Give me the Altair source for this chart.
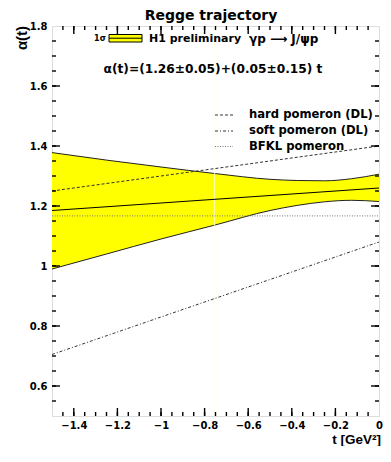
import altair as alt
import pandas as pd

# ---- data ----
band_t = [-1.5, -1.25, -1.0, -0.75, -0.5, -0.375, -0.25, -0.125, 0.0]
band_hi = [1.378, 1.353, 1.330, 1.308, 1.289, 1.285, 1.284, 1.291, 1.306]
band_lo = [0.990, 1.040, 1.090, 1.137, 1.185, 1.202, 1.214, 1.219, 1.215]

line_t = [-1.5, 0.0]
fit_central = [1.185, 1.26]
hard_pomeron = [1.25, 1.40]
soft_pomeron = [0.705, 1.08]
bfkl_pomeron = [1.167, 1.167]

x_major = [-1.4, -1.2, -1.0, -0.8, -0.6, -0.4, -0.2]
x_minor = [round(-1.45 + 0.05 * i, 2) for i in range(29)]
y_major = [0.6, 0.8, 1.0, 1.2, 1.4, 1.6]
y_minor = [round(0.55 + 0.05 * i, 2) for i in range(25)]
x_labels = [-1.4, -1.2, -1.0, -0.8, -0.6, -0.4, -0.2, 0.0]
y_labels = [0.6, 0.8, 1.0, 1.2, 1.4, 1.6, 1.8]

title_text = "Regge trajectory"
formula_text = "α(t)=(1.26±0.05)+(0.05±0.15) t"
legend_names = ["hard pomeron (DL)", "soft pomeron (DL)", "BFKL pomeron"]

W, H = 327, 390
FONT = "DejaVu Sans"

xs = alt.Scale(domain=[-1.5, 0], nice=False, zero=False)
ys = alt.Scale(domain=[0.5, 1.8], nice=False, zero=False)

xaxis = alt.Axis(values=x_labels, labelExpr="replace(format(datum.value, '.1~f'), '-', '\u2212')",
                 grid=False, ticks=False, tickSize=0, domain=False, labelPadding=4,
                 labelFont=FONT, labelFontWeight="bold", labelFontSize=10, labelColor="black",
                 labelFlush=False, labelOverlap=False, title=None)
yaxis = alt.Axis(values=y_labels, labelExpr="format(datum.value, '.1~f')",
                 grid=False, ticks=False, tickSize=0, domain=False, labelPadding=5,
                 labelFont=FONT, labelFontWeight="bold", labelFontSize=10, labelColor="black",
                 labelFlush=False, labelOverlap=False, title=None)


def X(f="t"):
    return alt.X(f"{f}:Q", scale=xs, axis=xaxis, title=None)


def Y(f="a"):
    return alt.Y(f"{f}:Q", scale=ys, axis=yaxis, title=None)


band_df = pd.DataFrame({"t": band_t, "hi": band_hi, "lo": band_lo})

band = alt.Chart(band_df).mark_area(color="#ffff00", interpolate="monotone", opacity=1).encode(
    x=X(), y=Y("lo"), y2="hi:Q")
band_hi_line = alt.Chart(band_df).mark_line(color="#222222", strokeWidth=1, interpolate="monotone").encode(
    x=X(), y=Y("hi"))
band_lo_line = alt.Chart(band_df).mark_line(color="#222222", strokeWidth=1, interpolate="monotone").encode(
    x=X(), y=Y("lo"))


def straight(vals, dash, color="black", width=1.0):
    df = pd.DataFrame({"t": line_t, "a": vals})
    kw = dict(color=color, strokeWidth=width)
    if dash:
        kw["strokeDash"] = dash
    return alt.Chart(df).mark_line(**kw).encode(x=X(), y=Y())


central = straight(fit_central, None, "black", 1.1)
hard = straight(hard_pomeron, [3, 2], "#333333", 1)
soft = straight(soft_pomeron, [3, 2, 1, 2], "#333333", 1)
bfkl = straight(bfkl_pomeron, [1, 1.5], "#777777", 1)

seam = alt.Chart(pd.DataFrame({"t": [-0.755]})).mark_rule(color="#ffffe4", strokeWidth=0.8).encode(
    x=X(), y=alt.value(0), y2=alt.value(H))


def xticks(vals, length):
    df = pd.DataFrame({"t": vals})
    bot = alt.Chart(df).mark_rule(color="black", strokeWidth=1.4).encode(
        x=X(), y=alt.value(H), y2=alt.value(H - length))
    top = alt.Chart(df).mark_rule(color="black", strokeWidth=1.4).encode(
        x=X(), y=alt.value(0), y2=alt.value(length))
    return [bot, top]


def yticks(vals, length):
    df = pd.DataFrame({"a": vals})
    left = alt.Chart(df).mark_rule(color="black", strokeWidth=1.4).encode(
        y=Y(), x=alt.value(0), x2=alt.value(length))
    right = alt.Chart(df).mark_rule(color="black", strokeWidth=1.4).encode(
        y=Y(), x=alt.value(W), x2=alt.value(W - length))
    return [left, right]


ticks = xticks(x_minor, 4) + xticks(x_major, 8) + yticks(y_minor, 4) + yticks(y_major, 8)

one = pd.DataFrame({"k": [0]})


def label(text, x, y, size, align="left", angle=0, font=FONT, weight="bold"):
    kw = dict(align=align, baseline="middle", fontSize=size, font=font, fontWeight=weight,
              color="black", text=text)
    if angle:
        kw["angle"] = angle
    return alt.Chart(one).mark_text(**kw).encode(x=alt.value(x), y=alt.value(y))


texts = [
    label(title_text, 159, -10, 14, align="center"),
    label("α(t)", -30, 12, 15, align="center", angle=270, font="Liberation Sans"),
    label("t [GeV²]", W + 2, 414, 13.5, align="right", font="Liberation Sans"),
    label("1σ", 48, 12.5, 8, align="center"),
    label("H1 preliminary", 97, 12.5, 11),
    label("γp ⟶ J/ψp", 197, 12.5, 12),
    label(formula_text, 161, 43, 12.2, align="center"),
]

legend_y = [89, 105, 120.5]
legend_dash = [[3, 2], [3, 2, 1, 2], [1, 1.5]]
legend_col = ["#333333", "#333333", "#777777"]
legend = []
for name, yy, d, c in zip(legend_names, legend_y, legend_dash, legend_col):
    legend.append(alt.Chart(one).mark_rule(color=c, strokeWidth=1, strokeDash=d).encode(
        x=alt.value(163), x2=alt.value(181), y=alt.value(yy)))
    legend.append(label(name, 197, yy, 11.6))

box = alt.Chart(one).mark_rect(fill="#ffff00", stroke="black", strokeWidth=1).encode(
    x=alt.value(57), x2=alt.value(90), y=alt.value(8.5), y2=alt.value(16))
box_mid = alt.Chart(one).mark_rule(color="black", strokeWidth=1).encode(
    x=alt.value(57), x2=alt.value(90), y=alt.value(12.2))

chart = alt.layer(
    band, band_hi_line, band_lo_line, seam, central, hard, soft, bfkl,
    *ticks, *texts, *legend, box, box_mid
).properties(
    width=W, height=H,
    autosize=alt.AutoSizeParams(type="none"),
    padding={"left": 44, "top": 18, "right": 4, "bottom": 30},
).configure_view(stroke="black", strokeWidth=2).configure(background="white")

chart.save("out.html", embed_options={"renderer": "svg", "actions": False})
